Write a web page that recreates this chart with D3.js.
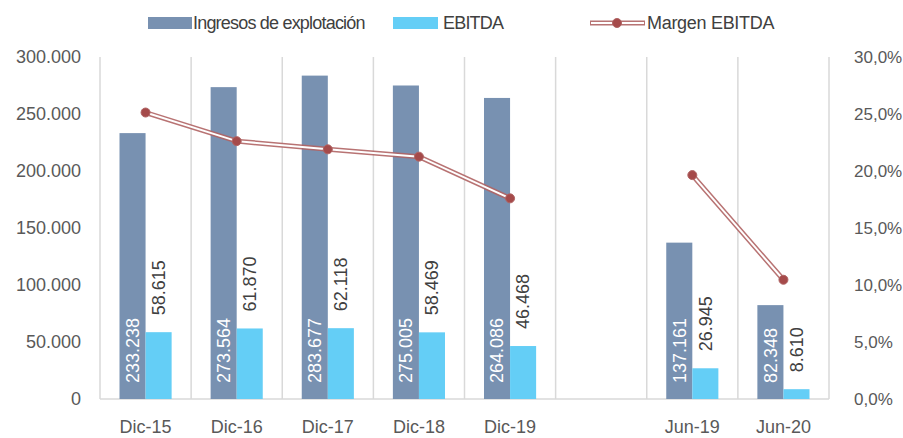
<!DOCTYPE html>
<html>
<head>
<meta charset="utf-8">
<script src="https://cdn.jsdelivr.net/npm/d3@7"></script>
<style>
    body { margin: 0; background: #fff; }
    text { font-family: "Liberation Sans", Arial, sans-serif; }
</style>
</head>
<body>
<div id="wrapper"></div>
<script>

// data
const categories = ["Dic-15", "Dic-16", "Dic-17", "Dic-18", "Dic-19", "", "Jun-19", "Jun-20"]
const ingresos = [233238, 273564, 283677, 275005, 264086, null, 137161, 82348]
const ebitda = [58615, 61870, 62118, 58469, 46468, null, 26945, 8610]
const margen = [25.13, 22.62, 21.90, 21.26, 17.60, null, 19.64, 10.46]   // %

const leftTicks = [0, 50000, 100000, 150000, 200000, 250000, 300000]
const rightTicks = [0, 5, 10, 15, 20, 25, 30]

const seriesNames = ["Ingresos de explotación", "EBITDA", "Margen EBITDA"]

function drawChart() {

    /* 1. Access data */
    const dataset = categories.map((c, i) => ({
        key: i + "",
        label: c,
        ingresos: ingresos[i],
        ebitda: ebitda[i],
        margen: margen[i],
    }))

    const locale = d3.formatLocale({
        decimal: ",",
        thousands: ".",
        grouping: [3],
        currency: ["", " €"],
    })
    const formatNum = locale.format(",.0f")
    const formatPct = d => locale.format(".1f")(d) + "%"

    const colors = {
        ingresos: "#7891b1",
        ebitda: "#64cef6",
        line: "#b06464",
        dot: "#a54a4a",
        grid: "#d9d9d9",
        tick: "#595959",
        label: "#404040",
    }

    /* 2. Create chart dimensions */
    let dimensions = {
        width: 903,
        height: 438,
        margin: {
            top: 57,
            right: 74,
            bottom: 39,
            left: 100,
        },
    }
    dimensions.boundedWidth = dimensions.width
        - dimensions.margin.left
        - dimensions.margin.right
    dimensions.boundedHeight = dimensions.height
        - dimensions.margin.top
        - dimensions.margin.bottom

    /* 3. Draw canvas */
    const wrapper = d3.select("#wrapper")
        .append("svg")
        .attr("width", dimensions.width)
        .attr("height", dimensions.height)

    const bounds = wrapper.append("g")
        .attr("transform", `translate(${dimensions.margin.left},${dimensions.margin.top})`)

    /* 4. Create scales */
    const xScale = d3.scaleBand()
        .domain(dataset.map(d => d.key))
        .range([0, dimensions.boundedWidth])

    const groupWidth = xScale.bandwidth() * 0.572
    const xInner = d3.scaleBand()
        .domain(["ingresos", "ebitda"])
        .range([(xScale.bandwidth() - groupWidth) / 2, (xScale.bandwidth() + groupWidth) / 2])

    const yScale = d3.scaleLinear()
        .domain([0, 300000])
        .range([dimensions.boundedHeight, 0])

    const yPctScale = d3.scaleLinear()
        .domain([0, 30])
        .range([dimensions.boundedHeight, 0])

    /* 5. Draw peripherals (grid first, under the bars) */
    const grid = bounds.append("g")
    grid.selectAll("line")
        .data(d3.range(categories.length + 1))
        .join("line")
        .attr("x1", i => i * xScale.step())
        .attr("x2", i => i * xScale.step())
        .attr("y1", 0)
        .attr("y2", dimensions.boundedHeight)
        .attr("stroke", colors.grid)
        .attr("stroke-width", 1.5)

    grid.append("line")
        .attr("x1", 0)
        .attr("x2", dimensions.boundedWidth)
        .attr("y1", dimensions.boundedHeight)
        .attr("y2", dimensions.boundedHeight)
        .attr("stroke", colors.grid)
        .attr("stroke-width", 1.5)

    const yAxis = bounds.append("g")
        .call(d3.axisLeft(yScale).tickValues(leftTicks).tickFormat(formatNum).tickSize(0).tickPadding(19))
    yAxis.select(".domain").remove()
    yAxis.selectAll("text")
        .attr("fill", colors.tick)
        .style("font-size", "18px")

    // reference clips the "%" at the window edge; nudge left a little so it stays whole
    const yAxisRight = bounds.append("g")
        .attr("transform", `translate(${dimensions.boundedWidth},0)`)
        .call(d3.axisRight(yPctScale).tickValues(rightTicks).tickFormat(formatPct).tickSize(0).tickPadding(25))
    yAxisRight.select(".domain").remove()
    yAxisRight.selectAll("text")
        .attr("fill", colors.tick)
        .style("font-size", "17px")

    const xAxis = bounds.append("g")
        .attr("transform", `translate(0,${dimensions.boundedHeight})`)
        .call(d3.axisBottom(xScale).tickFormat((k, i) => categories[i]).tickSize(0).tickPadding(21))
    xAxis.select(".domain").remove()
    xAxis.selectAll("text")
        .attr("fill", colors.tick)
        .style("font-size", "18px")

    /* 6. Draw data */
    const groups = bounds.append("g")
        .selectAll("g")
        .data(dataset.filter(d => d.ingresos != null))
        .join("g")
        .attr("transform", d => `translate(${xScale(d.key)},0)`)

    groups.append("rect")
        .attr("x", xInner("ingresos"))
        .attr("width", xInner.bandwidth())
        .attr("y", d => yScale(d.ingresos))
        .attr("height", d => dimensions.boundedHeight - yScale(d.ingresos))
        .attr("fill", colors.ingresos)

    groups.append("rect")
        .attr("x", xInner("ebitda"))
        .attr("width", xInner.bandwidth())
        .attr("y", d => yScale(d.ebitda))
        .attr("height", d => dimensions.boundedHeight - yScale(d.ebitda))
        .attr("fill", colors.ebitda)

    // ingresos labels: inside base, white
    groups.append("text")
        .attr("transform", d => `translate(${xInner("ingresos") + xInner.bandwidth() / 2},${dimensions.boundedHeight - 16}) rotate(-90)`)
        .attr("dy", "0.35em")
        .attr("fill", "#fff")
        .style("font-size", "18px")
        .text(d => formatNum(d.ingresos))

    // ebitda labels: outside end
    groups.append("text")
        .attr("transform", d => `translate(${xInner("ebitda") + xInner.bandwidth() / 2},${yScale(d.ebitda) - 17}) rotate(-90)`)
        .attr("dy", "0.35em")
        .attr("fill", colors.label)
        .style("font-size", "18px")
        .text(d => formatNum(d.ebitda))

    // margen line, double stroke look
    const lineGenerator = d3.line()
        .defined(d => d.margen != null)
        .x(d => xScale(d.key) + xScale.bandwidth() / 2)
        .y(d => yPctScale(d.margen))

    bounds.append("path")
        .attr("d", lineGenerator(dataset))
        .attr("fill", "none")
        .attr("stroke", colors.line)
        .attr("stroke-width", 5)
        .attr("opacity", 0.9)

    bounds.append("path")
        .attr("d", lineGenerator(dataset))
        .attr("fill", "none")
        .attr("stroke", "#fff")
        .attr("stroke-width", 2)

    bounds.append("g")
        .selectAll("circle")
        .data(dataset.filter(d => d.margen != null))
        .join("circle")
        .attr("cx", d => xScale(d.key) + xScale.bandwidth() / 2)
        .attr("cy", d => yPctScale(d.margen))
        .attr("r", 4.5)
        .attr("fill", colors.dot)
        .attr("stroke", colors.line)
        .attr("stroke-width", 1)

    /* 7. Legend */
    const legend = wrapper.append("g")
        .attr("transform", "translate(0,23)")

    legend.append("rect")
        .attr("x", 148).attr("y", -6).attr("width", 44).attr("height", 12)
        .attr("fill", colors.ingresos)
    legend.append("rect")
        .attr("x", 393).attr("y", -6).attr("width", 45).attr("height", 12)
        .attr("fill", colors.ebitda)

    legend.append("line")
        .attr("x1", 590).attr("x2", 645)
        .attr("stroke", colors.line).attr("stroke-width", 5).attr("opacity", 0.9)
    legend.append("line")
        .attr("x1", 591).attr("x2", 644)
        .attr("stroke", "#fff").attr("stroke-width", 2)
    legend.append("circle")
        .attr("cx", 617).attr("r", 4.5)
        .attr("fill", colors.dot).attr("stroke", colors.line)

    const legendX = [193, 443, 647]
    legend.selectAll(".legendText")
        .data(seriesNames)
        .join("text")
        .attr("class", "legendText")
        .attr("x", (d, i) => legendX[i])
        .attr("dy", "0.35em")
        .attr("fill", colors.label)
        .style("font-size", "18px")
        .style("letter-spacing", (d, i) => i < 2 ? "-0.8px" : "-0.3px")
        .text(d => d)
}
drawChart()
</script>
</body>
</html>
